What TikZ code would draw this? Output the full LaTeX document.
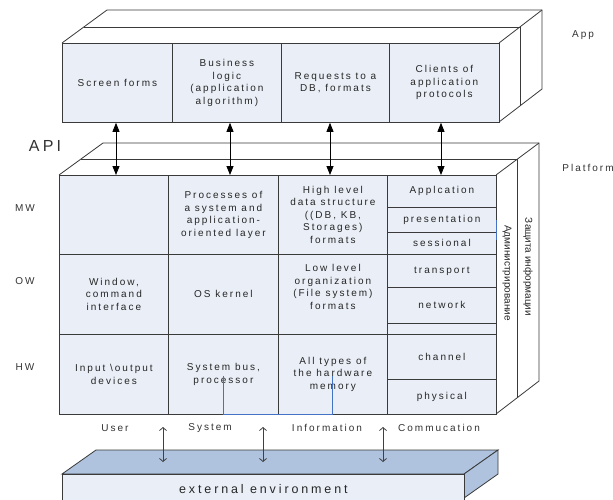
\documentclass[tikz,border=0pt]{standalone}
\usepackage{fontspec}
\setmainfont{Liberation Sans}[LetterSpace=20]
\newfontfamily\rusfont{Liberation Sans}
\newfontfamily\extfont{Liberation Sans}[LetterSpace=23]
\usetikzlibrary{arrows.meta}
\definecolor{face}{HTML}{EAEFF7}
\definecolor{blueface}{HTML}{AFC3DF}
\definecolor{ln}{HTML}{3A3A3A}
\definecolor{bl}{HTML}{4472C4}
\begin{document}
\begin{tikzpicture}[x=1pt,y=-1pt,line width=0.8pt,
  edge/.style={draw=ln},
  cell/.style={draw=ln,fill=face,inner sep=0pt,anchor=north west,align=center,
    font=\fontsize{10}{12.5}\selectfont,text=black!85},
  lbl/.style={inner sep=0pt,font=\fontsize{10}{12}\selectfont,text=black!80},
  rot/.style={inner sep=0pt,rotate=-90,font=\rusfont\fontsize{10}{12}\selectfont,text=black!85},
  apiarrow/.style={draw=black,line width=0.8pt,{Triangle[length=9pt,width=7pt]}-{Triangle[length=9pt,width=7pt]}},
  envarrow/.style={draw=black!75,line width=0.8pt,{Straight Barb[length=3pt,width=7pt]}-{Straight Barb[length=3pt,width=7pt]}}]
\useasboundingbox[fill=white] (0,0) rectangle (613,499);

% ---------- App block ----------
\draw[edge] (62,43) -- (107,10) -- (542,10) -- (542,89) -- (499,122);
\draw[edge] (83.5,27) -- (520.5,27) -- (520.5,106);
\draw[edge] (499,43) -- (542,10);
\node[cell,minimum width=110,minimum height=79] (a1) at (62,43) {Screen forms};
\node[cell,minimum width=109,minimum height=79] (a2) at (172,43) {Business\\logic\\(application\\algorithm)};
\node[cell,minimum width=108,minimum height=79] (a3) at (281,43) {Requests to a\\DB, formats};
\node[cell,minimum width=110,minimum height=79] (a4) at (389,43) {Clients of\\application\\protocols};

% ---------- Platform block ----------
\draw[edge] (59,175) -- (103,143) -- (539,143) -- (539,381) -- (496,414);
\draw[edge] (81,159) -- (517,159) -- (517,398);
\draw[edge] (496,175) -- (539,143);
\node[rot] (adm) at (507,273) {Администрирование};
\node[rot] (zi) at (528,267) {Защита информации};

\node[cell,minimum width=109,minimum height=79] (m1) at (59,175) {};
\node[cell,minimum width=110,minimum height=79] (m2) at (168,175) {Processes of\\a system and\\application-\\oriented layer};
\node[cell,minimum width=109,minimum height=79] (m3) at (278,175) {High level\\data structure\\((DB, KB,\\Storages)\\formats};
\node[cell,minimum width=109,minimum height=80] (o1) at (59,254) {Window,\\command\\interface};
\node[cell,minimum width=110,minimum height=80] (o2) at (168,254) {OS kernel};
\node[cell,minimum width=109,minimum height=80] (o3) at (278,254) {Low level\\organization\\(File system)\\formats\\[3pt]};
\node[cell,minimum width=109,minimum height=80] (h1) at (59,334) {Input \textbackslash output\\devices};
\node[cell,minimum width=110,minimum height=80] (h2) at (168,334) {System bus,\\processor};
\node[cell,minimum width=109,minimum height=80] (h3) at (278,334) {All types of\\the hardware\\memory};

\node[cell,minimum width=109,minimum height=32] (l1) at (387,175) {Applcation};
\node[cell,minimum width=109,minimum height=25] (l2) at (387,207) {presentation};
\node[cell,minimum width=109,minimum height=22] (l3) at (387,232) {sessional};
\node[cell,minimum width=109,minimum height=33] (l4) at (387,254) {transport};
\node[cell,minimum width=109,minimum height=36] (l5) at (387,287) {network};
\node[cell,minimum width=109,minimum height=11] (l6) at (387,323) {};
\node[cell,minimum width=109,minimum height=45] (l7) at (387,334) {channel};
\node[cell,minimum width=109,minimum height=35] (l8) at (387,379) {physical};

\draw[bl] (h2.south west) ++(55,-39) -- ++(0,39) -- ++(109,0) -- ++(0,-39);
\draw[bl] (l2.north east) ++(0,13) -- ++(0,20);

% ---------- API arrows ----------
\coordinate (c1) at (116,150);
\coordinate (c2) at (230,150);
\coordinate (c3) at (330,150);
\coordinate (c4) at (441,150);
\draw[apiarrow] (c1 |- a1.south) -- (c1 |- m1.north);
\draw[apiarrow] (c2 |- a2.south) -- (c2 |- m2.north);
\draw[apiarrow] (c3 |- a3.south) -- (c3 |- m3.north);
\draw[apiarrow] (c4 |- a4.south) -- (c4 |- l1.north);

% ---------- external environment ----------
\draw[edge,fill=blueface] (62,474) -- (96,450) -- (498,450) -- (464,474) -- cycle;
\draw[edge,fill=blueface] (464,474) -- (498,450) -- (498,474) -- (464,498) -- cycle;
\node[draw=ln,fill=face,inner sep=0pt,anchor=north west,minimum width=402,minimum height=29,
  font=\extfont\fontsize{12.5}{14}\selectfont,text=black!85] (ext) at (62,474) {external environment};

\coordinate (e1) at (163,427);
\coordinate (e2) at (263,427);
\coordinate (e3) at (383,427);
\coordinate (f1) at (163,462);
\coordinate (f2) at (263,462);
\coordinate (f3) at (383,462);
\draw[envarrow] (e1) -- (f1);
\draw[envarrow] (e2) -- (f2);
\draw[envarrow] (e3) -- (f3);

% ---------- labels ----------
\node[lbl] (app) at (583,35) {App};
\node[lbl] (plat) at (588,168) {Platform};
\node[lbl,font=\fontsize{16}{18}\selectfont] (api) at (45,146) {API};
\node[lbl] (mw) at (25,208) {MW};
\node[lbl] (ow) at (25,281) {OW};
\node[lbl] (hw) at (25,367) {HW};
\node[lbl] (u) at (115,428) {User};
\node[lbl] (s) at (210,428) {System};
\node[lbl] (i) at (327,428) {Information};
\node[lbl] (cm) at (439,428) {Commucation};
\end{tikzpicture}
\end{document}
